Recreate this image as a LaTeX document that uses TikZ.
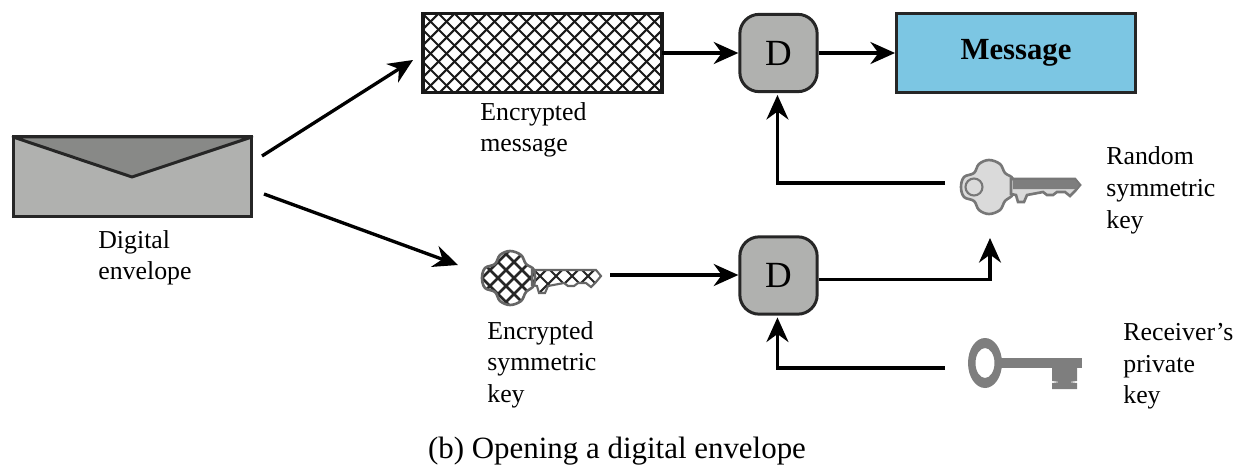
\documentclass[tikz,border=0pt]{standalone}
\usepackage{fontspec}
\setmainfont{Liberation Serif}
\usetikzlibrary{arrows.meta}
\definecolor{envgray}{HTML}{B0B1AF}
\definecolor{flapgray}{HTML}{888987}
\definecolor{msgblue}{HTML}{7CC6E3}
\definecolor{keyline}{HTML}{777777}
\definecolor{keylight}{HTML}{DADADA}
\definecolor{keysteel}{HTML}{7E7E7E}
\newcommand{\keybow}{plot[smooth cycle,tension=0.6] coordinates {(0,0) (3,-10) (13,-14) (18,-23) (28,-27) (39,-23) (44,-14) (52,-8) (52,7) (44,14) (39,23) (28,27) (18,23) (13,14) (3,10)}}
\newcommand{\keyblade}{(50,-8) -- (114,-8) -- (119,-2) -- (114,4) -- (109,9) -- (104,5) -- (96,5) -- (92,8) -- (86,8) -- (82,5) -- (66,8) -- (63,15) -- (57,15) -- (55,8) -- (50,7) -- cycle}
\tikzset{
  arrowline/.style={line width=1.9pt,-{Stealth[length=14pt,width=12.5pt]}},
  lbl/.style={anchor=north west,align=left,inner sep=0pt,font=\fontsize{14.7}{18}\selectfont},
  dbox/.style={draw=black!85,line width=1.7pt,fill=envgray,rounded corners=11pt,inner sep=0pt,minimum size=44pt,font=\fontsize{21}{24}\selectfont},
  plainkey/.pic={
    \path[fill=keylight,draw=keyline,line width=1.5pt] \keybow;
    \path[fill=keylight,draw=keyline,line width=1.5pt] \keyblade;
    \fill[keysteel] (52,-7) -- (114,-7) -- (118,-2) -- (115,2) -- (52,2) -- cycle;
    \draw[keyline,line width=1.2pt] (13,0) circle (8.5);
  },
  hatchkey/.pic={
    \begin{scope}
      \clip \keybow;
      \foreach \i in {-6,...,6} {
        \draw[black!85,line width=1.5pt] (-40+\i*16,-40) -- ++(100,100);
        \draw[black!85,line width=1.5pt] (-40+\i*16+80,-40) -- ++(-100,100);
      }
    \end{scope}
    \begin{scope}
      \clip \keyblade;
      \foreach \i in {0,...,6} {
        \draw[black!85,line width=1.2pt] (30+\i*16,-30) -- ++(50,50);
        \draw[black!85,line width=1.2pt] (70+\i*16,-30) -- ++(-50,50);
      }
    \end{scope}
    \path[draw=black!60,line width=1.5pt] \keybow;
    \path[draw=black!60,line width=1.2pt] \keyblade;
  },
  steelkey/.pic={
    \fill[keysteel,even odd rule] (0,0) ellipse (17 and 25) (0,0) ellipse (9.5 and 15);
    \fill[keysteel] (16,-5) rectangle (97,5);
    \fill[keysteel] (67,5) -- (92,5) -- (92,18) -- (84,19) -- (92,20) -- (92,26) -- (67,26) -- (67,20) -- (75,19) -- (67,18) -- cycle;
  }
}
\begin{document}
\begin{tikzpicture}[x=0.02cm,y=-0.02cm]
  \useasboundingbox (0,0) rectangle (1254,467);
  % envelope
  \node[draw=black!85,line width=1.7pt,fill=envgray,minimum width=136pt,minimum height=45pt,inner sep=0pt,outer sep=0pt] (envelope) at (132.5,176.5) {};
  \fill[flapgray,draw=black!85,line width=1.7pt,line join=round] (envelope.north west) -- (132,177) -- (envelope.north east) -- cycle;
  \node[lbl] (envlabel) at (98,230) {Digital\\envelope};
  % encrypted message
  \node[draw=black!90,line width=1.7pt,minimum width=136pt,minimum height=45pt,inner sep=0pt,outer sep=0pt] (encmsg) at (542.5,53) {};
  \begin{scope}
    \clip (encmsg.south west) rectangle (encmsg.north east);
    \foreach \i in {-6,...,16} {
      \draw[black!90,line width=1.2pt] (422+\i*16,13) -- ++(81,81);
      \draw[black!90,line width=1.2pt] (422+\i*16,94) -- ++(81,-81);
    }
  \end{scope}
  \draw[black!90,line width=2.2pt] (encmsg.south west) rectangle (encmsg.north east);
  \node[lbl] (msglabel) at (480,102) {Encrypted\\message};
  % decrypt boxes
  \node[dbox] (dtop) at (778.5,53) {D};
  \node[dbox] (dbot) at (778.5,275.5) {D};
  % message
  \node[draw=black!85,line width=1.7pt,fill=msgblue,minimum width=136pt,minimum height=45pt,inner sep=0pt,font=\fontsize{17.5}{18}\selectfont\bfseries] (message) at (1016,53) {\raisebox{-1pt}{Message}\hspace{10pt}};
  % keys
  \pic at (961,187) {plainkey};
  \pic at (482,278) {hatchkey};
  \pic at (985,363) {steelkey};
  \node[lbl] (randlabel) at (1106,146.5) {Random\\symmetric\\key};
  \node[lbl] (enclabel) at (487,321) {Encrypted\\symmetric\\key};
  \node[lbl] (privlabel) at (1123,323) {Receiver's\\private\\key};
  % free ends
  \coordinate (envup) at (262,156);
  \coordinate (msgin) at (413,60);
  \coordinate (envdown) at (264,194);
  \coordinate (keyin) at (458,265);
  \coordinate (keyout) at (610,275);
  \coordinate (randout) at (945,183);
  \coordinate (randin) at (990,238);
  \coordinate (privout) at (945,368);
  % connectors
  \draw[arrowline] (envup) -- (msgin);
  \draw[arrowline] (envdown) -- (keyin);
  \draw[arrowline] (encmsg.east) -- (dtop.west);
  \draw[arrowline] (dtop.east) -- (message.west);
  \draw[arrowline] (keyout) -- (keyout -| dbot.west);
  \draw[arrowline] (randout) -| ([xshift=-0.6pt,yshift=-1pt]dtop.south);
  \draw[arrowline] ([yshift=-2.3pt]dbot.east) -| (randin);
  \draw[arrowline] (privout) -| ([xshift=-0.6pt,yshift=-1pt]dbot.south);
  % caption
  \node[font=\fontsize{17.6}{20}\selectfont,inner sep=0pt] (caption) at (617,451) {(b) Opening a digital envelope};
\end{tikzpicture}
\end{document}
